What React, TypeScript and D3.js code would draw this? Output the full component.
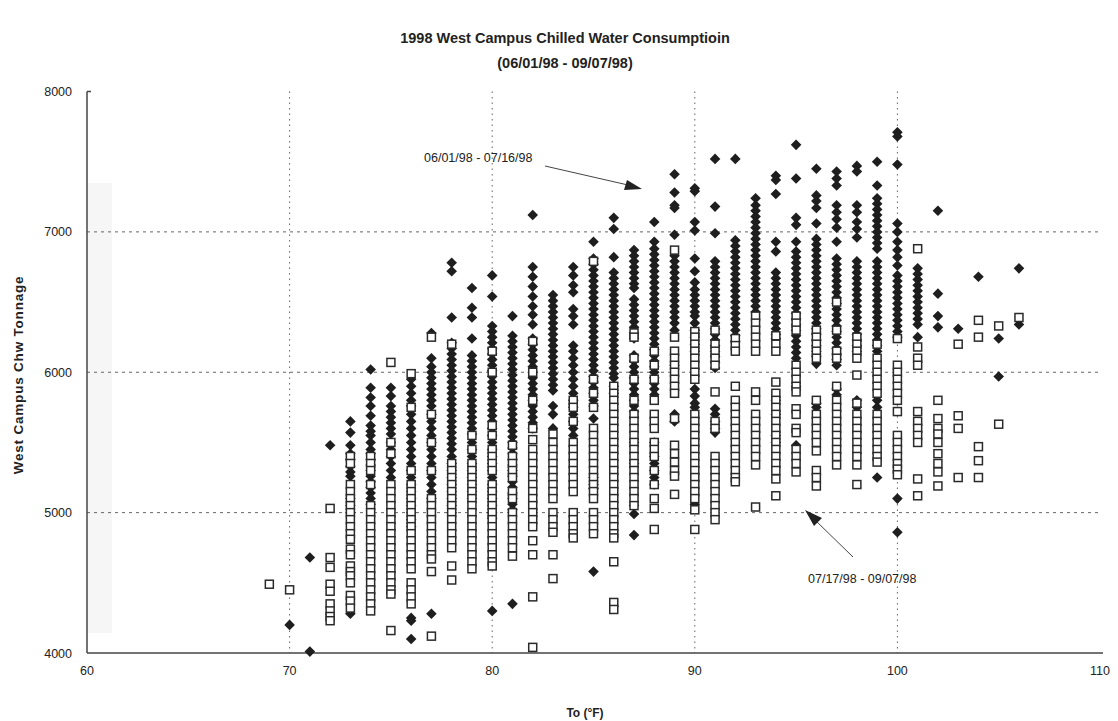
import React from "react";
import * as d3 from "d3";

// rows: [outdoor temp °F, ...chilled water tonnage readings]
// 06/01/98 - 07/16/98 (filled diamonds)
const earlyRows: number[][] = [
  [70, 4200],
  [71, 4680, 4010],
  [72, 5480],
  [73, 5650, 5570, 5480, 5420, 5380, 5330, 5290, 5260, 5100, 5050, 5000, 4280],
  [74, 6020, 5890, 5820, 5760, 5690, 5620, 5580, 5550, 5500, 5450, 5420, 5380, 5340, 5300, 5260, 5220, 5180, 5140, 5100, 5060],
  [75, 5890, 5830, 5760, 5720, 5680, 5640, 5600, 5560, 5500, 5450, 5400, 5350, 5300, 5250],
  [76, 5950, 5900, 5850, 5800, 5760, 5700, 5650, 5600, 5550, 5500, 5450, 5400, 5350, 5300, 5250, 5200, 5150, 5100, 5050, 5000, 4950, 4900, 4250, 4230, 4100],
  [77, 6280, 6100, 6040, 6000, 5960, 5920, 5880, 5840, 5800, 5760, 5700, 5650, 5600, 5550, 5500, 5450, 5400, 5350, 5300, 5250, 5200, 5150, 5100, 4280],
  [78, 6780, 6720, 6390, 6210, 6170, 6130, 6090, 6050, 6010, 5970, 5930, 5890, 5850, 5810, 5770, 5730, 5690, 5650, 5610, 5570, 5530, 5490, 5450, 5400, 5350, 5300, 5250, 5200, 5150, 5100, 5050, 5000],
  [79, 6600, 6460, 6390, 6240, 6120, 6080, 6040, 6000, 5960, 5920, 5880, 5840, 5800, 5760, 5720, 5680, 5640, 5600, 5560, 5500, 5450, 5400, 5350, 5300, 5250, 5200, 5150, 5100],
  [80, 6690, 6540, 6330, 6290, 6250, 6210, 6170, 6130, 6090, 6050, 6010, 5970, 5930, 5890, 5850, 5810, 5770, 5730, 5690, 5650, 5600, 5550, 5500, 5450, 5400, 5350, 5300, 5250, 5200, 5150, 5100, 5050, 5000, 4960, 4300],
  [81, 6400, 6260, 6220, 6180, 6140, 6100, 6060, 6020, 5980, 5940, 5900, 5860, 5820, 5780, 5740, 5700, 5660, 5620, 5580, 5540, 5500, 5460, 5420, 5380, 5340, 5300, 5260, 5220, 5180, 5140, 5100, 5060, 5020, 4350],
  [82, 7120, 6750, 6680, 6610, 6540, 6470, 6410, 6340, 6240, 6200, 6160, 6120, 6080, 6040, 6000, 5960, 5920, 5880, 5840, 5800, 5760, 5720, 5680, 5640, 5600],
  [83, 6550, 6510, 6470, 6430, 6390, 6350, 6310, 6270, 6230, 6190, 6150, 6110, 6070, 6030, 5990, 5950, 5910, 5870, 5760, 5700, 5600],
  [84, 6750, 6690, 6620, 6570, 6450, 6400, 6340, 6190, 6150, 6100, 6050, 6000, 5950, 5900, 5850, 5800, 5750, 5700, 5650, 5600, 5550],
  [85, 6930, 6810, 6770, 6730, 6690, 6650, 6610, 6570, 6530, 6490, 6450, 6410, 6370, 6330, 6290, 6250, 6210, 6170, 6130, 6090, 6050, 6010, 5970, 5930, 5890, 5850, 5800, 5760, 5670, 5250, 5200, 5170, 4580],
  [86, 7100, 7020, 6820, 6710, 6670, 6630, 6590, 6550, 6510, 6470, 6430, 6390, 6350, 6310, 6270, 6230, 6190, 6150, 6110, 6070, 6030, 5990, 5960, 5900, 5850],
  [87, 6870, 6830, 6790, 6750, 6710, 6670, 6630, 6600, 6520, 6480, 6440, 6400, 6360, 6320, 6280, 6240, 6120, 6080, 6040, 6000, 5960, 5920, 5880, 5840, 5800, 5760, 5720, 5680, 5500, 5350, 5050, 4990, 4840],
  [88, 7070, 6930, 6880, 6840, 6800, 6760, 6720, 6680, 6640, 6600, 6560, 6520, 6480, 6440, 6400, 6360, 6320, 6280, 6240, 6200, 6160, 6120, 6080, 6040, 6000, 5960, 5920, 5880, 5840, 5500, 5400, 5350, 5300, 5250, 5200],
  [89, 7410, 7280, 7190, 7170, 6980, 6830, 6790, 6750, 6710, 6670, 6630, 6590, 6550, 6510, 6470, 6430, 6390, 6350, 6300, 6050, 5700, 5650],
  [90, 7310, 7290, 7070, 7010, 6810, 6720, 6640, 6590, 6550, 6510, 6470, 6430, 6400, 6350, 6300, 6250, 6200, 6150, 5880, 5830, 5780, 5750, 5060],
  [91, 7520, 7180, 6990, 6790, 6750, 6710, 6670, 6630, 6590, 6550, 6510, 6470, 6430, 6390, 6350, 6310, 6270, 6230, 6190, 6150, 6110, 6070, 6030, 5740, 5700, 5650, 5600, 5570],
  [92, 7520, 6940, 6900, 6860, 6820, 6780, 6740, 6700, 6660, 6620, 6580, 6540, 6500, 6460, 6420, 6380, 6340, 6300, 6260, 6220],
  [93, 7240, 7190, 7150, 7110, 7070, 7030, 6990, 6950, 6910, 6870, 6830, 6790, 6750, 6710, 6670, 6630, 6590, 6550, 6510, 6470, 6430],
  [94, 7400, 7370, 7270, 6930, 6860, 6710, 6670, 6630, 6590, 6550, 6510, 6470, 6430, 6390, 6350, 6310, 6270, 6240, 5800, 5700, 5550, 5500],
  [95, 7620, 7380, 7100, 7050, 6930, 6860, 6820, 6780, 6740, 6700, 6660, 6620, 6580, 6540, 6500, 6460, 6420, 6380, 6340, 6300, 6260, 6220, 6180, 6140, 6100, 5900, 5480],
  [96, 7450, 7260, 7220, 7170, 7060, 6950, 6910, 6870, 6830, 6790, 6750, 6710, 6670, 6630, 6590, 6550, 6510, 6470, 6430, 6390, 6350, 6310, 6270, 6230, 6190, 6150, 6110, 6060, 5780, 5750],
  [97, 7430, 7380, 7330, 7190, 7140, 7090, 7030, 6930, 6810, 6770, 6730, 6690, 6650, 6610, 6570, 6530, 6490, 6450, 6410, 6370, 6330, 6290, 6250, 6210, 6170, 6130, 6090, 6050, 5880, 5840],
  [98, 7470, 7430, 7190, 7140, 7070, 7020, 6960, 6790, 6750, 6710, 6670, 6630, 6590, 6550, 6510, 6470, 6430, 6390, 6350, 6310, 6270, 6230, 6190, 6150, 5800, 5750],
  [99, 7500, 7330, 7240, 7200, 7160, 7120, 7080, 7040, 7000, 6960, 6920, 6880, 6790, 6750, 6710, 6670, 6630, 6590, 6550, 6510, 6470, 6430, 6390, 6350, 6310, 6270, 6230, 6190, 6150, 5800, 5750, 5250],
  [100, 7710, 7680, 7480, 7060, 7000, 6930, 6870, 6820, 6760, 6690, 6650, 6610, 6570, 6530, 6490, 6450, 6410, 6370, 6330, 6290, 6250, 5100, 4860],
  [101, 6740, 6700, 6660, 6620, 6580, 6540, 6500, 6460, 6420, 6380, 6340, 6250],
  [102, 7150, 6560, 6400, 6320],
  [103, 6310],
  [104, 6680],
  [105, 6240, 5970],
  [106, 6740, 6340],
];

// 07/17/98 - 09/07/98 (open squares)
const lateRows: number[][] = [
  [69, 4490],
  [70, 4450],
  [72, 5030, 4680, 4610, 4490, 4440, 4350, 4300, 4260, 4230],
  [73, 5400, 5350, 5200, 5150, 5100, 5050, 5000, 4950, 4900, 4850, 4810, 4740, 4700, 4620, 4580, 4550, 4500, 4410, 4370, 4320],
  [74, 5400, 5350, 5300, 5200, 5050, 5000, 4950, 4900, 4850, 4800, 4750, 4700, 4650, 4600, 4550, 4500, 4450, 4400, 4350, 4300],
  [75, 6070, 5500, 5420, 5200, 5150, 5100, 5050, 5000, 4950, 4900, 4850, 4800, 4750, 4700, 4650, 4600, 4550, 4500, 4450, 4420, 4160],
  [76, 5990, 5750, 5300, 5200, 5150, 5100, 5050, 5000, 4950, 4900, 4850, 4800, 4750, 4700, 4650, 4600, 4500, 4450, 4400, 4350],
  [77, 6250, 5700, 5500, 5300, 5100, 5050, 5000, 4950, 4900, 4850, 4800, 4750, 4700, 4670, 4580, 4120],
  [78, 6200, 5350, 5300, 5250, 5200, 5150, 5100, 5050, 5000, 4950, 4900, 4850, 4800, 4750, 4620, 4520],
  [79, 5550, 5450, 5350, 5300, 5250, 5200, 5150, 5100, 5050, 5000, 4950, 4900, 4850, 4800, 4750, 4700, 4650, 4600],
  [80, 6150, 6000, 5620, 5550, 5450, 5400, 5350, 5300, 5200, 5150, 5100, 5050, 5000, 4950, 4900, 4850, 4800, 4750, 4700, 4650, 4620],
  [81, 5480, 5400, 5350, 5300, 5250, 5150, 5100, 5000, 4950, 4900, 4850, 4800, 4750, 4690],
  [82, 6220, 6000, 5800, 5600, 5520, 5450, 5400, 5350, 5300, 5250, 5200, 5150, 5100, 5050, 5000, 4950, 4900, 4800, 4700, 4400, 4040],
  [83, 5560, 5500, 5450, 5400, 5350, 5300, 5250, 5200, 5150, 5100, 5000, 4950, 4900, 4860, 4700, 4530],
  [84, 5800, 5750, 5650, 5500, 5450, 5400, 5350, 5300, 5250, 5200, 5150, 5000, 4950, 4900, 4850, 4820],
  [85, 6790, 5950, 5850, 5750, 5600, 5550, 5500, 5450, 5400, 5350, 5300, 5250, 5200, 5150, 5100, 5000, 4950, 4900, 4850],
  [86, 5900, 5850, 5800, 5750, 5700, 5650, 5600, 5550, 5500, 5450, 5400, 5350, 5300, 5250, 5200, 5150, 5100, 5050, 5000, 4950, 4900, 4850, 4820, 4650, 4360, 4310],
  [87, 6280, 6250, 6100, 5950, 5800, 5700, 5650, 5600, 5550, 5500, 5450, 5400, 5350, 5300, 5250, 5200, 5150, 5100, 5050],
  [88, 6150, 6050, 5950, 5800, 5700, 5650, 5600, 5500, 5450, 5400, 5300, 5200, 5100, 5030, 4880],
  [89, 6870, 6250, 6150, 6100, 6050, 6000, 5950, 5900, 5850, 5670, 5480, 5420, 5360, 5300, 5260, 5130],
  [90, 6290, 6250, 6200, 6150, 6100, 6050, 6000, 5950, 5700, 5650, 5600, 5550, 5500, 5450, 5400, 5350, 5300, 5250, 5200, 5150, 5100, 5020, 4880],
  [91, 6300, 6200, 6150, 6100, 6050, 5860, 5650, 5600, 5400, 5350, 5300, 5250, 5200, 5150, 5100, 5050, 5000, 4950],
  [92, 6240, 6190, 6150, 5900, 5800, 5750, 5700, 5650, 5600, 5550, 5500, 5450, 5400, 5350, 5300, 5250, 5220],
  [93, 6400, 6350, 6300, 6250, 6200, 6150, 5860, 5800, 5700, 5650, 5600, 5550, 5500, 5450, 5400, 5340, 5040],
  [94, 6260, 6200, 6150, 5930, 5850, 5800, 5750, 5700, 5650, 5600, 5550, 5500, 5450, 5400, 5350, 5300, 5240, 5120],
  [95, 6400, 6350, 6300, 6050, 6000, 5950, 5900, 5860, 5740, 5700, 5600, 5570, 5450, 5400, 5350, 5290],
  [96, 6300, 6250, 6200, 6150, 6100, 5800, 5700, 5650, 5600, 5550, 5500, 5440, 5300, 5250, 5190],
  [97, 6500, 6300, 6150, 6100, 5900, 5800, 5750, 5700, 5650, 5600, 5550, 5500, 5450, 5400, 5340],
  [98, 6250, 6200, 6150, 6100, 5980, 5780, 5700, 5650, 5600, 5550, 5500, 5450, 5400, 5340, 5200],
  [99, 6200, 6100, 6050, 6000, 5950, 5900, 5850, 5700, 5650, 5600, 5550, 5500, 5450, 5400, 5360],
  [100, 6240, 6050, 6000, 5950, 5900, 5850, 5800, 5720, 5550, 5500, 5450, 5400, 5350, 5310, 5270],
  [101, 6880, 6180, 6100, 6050, 5720, 5650, 5600, 5550, 5500, 5240, 5120],
  [102, 5800, 5670, 5600, 5560, 5500, 5420, 5350, 5290, 5190],
  [103, 6200, 5690, 5600, 5250],
  [104, 6370, 6250, 5470, 5370, 5250],
  [105, 6330, 5630],
  [106, 6390],
];

const xTicks = [60, 70, 80, 90, 100, 110];
const yTicks = [4000, 5000, 6000, 7000, 8000];
const xGrid = [70, 80, 90, 100];
const yGrid = [5000, 6000, 7000];

const W = 1118, H = 721;
const font = "'Liberation Sans', Arial, sans-serif";

function flatten(rows: number[][]) {
  return rows.flatMap(([t, ...vals]) => vals.map(v => ({ t, v })));
}

export default function App() {
  const x = d3.scaleLinear().domain([60, 110]).range([87, 1100]);
  const y = d3.scaleLinear().domain([4000, 8000]).range([653, 91.5]);
  const early = flatten(earlyRows);
  const late = flatten(lateRows);
  const r = 5.3;
  const diamond = `M0,${-r}L${r},0L0,${r}L${-r},0Z`;
  const s = 8;

  return (
    <svg width={W} height={H} style={{ position: "absolute", left: 0, top: 0, background: "#fff" }} fontFamily={font}>
      <rect x={0} y={0} width={W} height={H} fill="#fff" />
      {/* faint scan shading at the left edge of the plot */}
      <rect x={88} y={183} width={24} height={450} fill="#f6f6f6" />

      <text x={565} y={43} textAnchor="middle" fontSize={14.5} fontWeight="bold" fill="#222">
        1998 West Campus Chilled Water Consumptioin
      </text>
      <text x={565} y={68} textAnchor="middle" fontSize={14.5} fontWeight="bold" fill="#222">
        (06/01/98 - 09/07/98)
      </text>

      {/* gridlines */}
      {xGrid.map(t => (
        <line key={"gx" + t} x1={x(t)} x2={x(t)} y1={y(8000)} y2={y(4000)} stroke="#666" strokeWidth={1} strokeDasharray="1.5,4" />
      ))}
      {yGrid.map(v => (
        <line key={"gy" + v} x1={x(60)} x2={x(110)} y1={y(v)} y2={y(v)} stroke="#666" strokeWidth={1} strokeDasharray="3,4" />
      ))}

      {/* axes */}
      <line x1={x(60)} x2={x(60)} y1={y(8000)} y2={y(4000)} stroke="#444" strokeWidth={1.5} />
      <line x1={x(60)} x2={x(60) + 4} y1={y(8000)} y2={y(8000)} stroke="#444" strokeWidth={1.5} />
      <line x1={x(60)} x2={x(110) + 3} y1={y(4000)} y2={y(4000)} stroke="#444" strokeWidth={1.5} />

      {yTicks.map(v => (
        <text key={"yt" + v} x={72} y={y(v) + 4.5} textAnchor="end" fontSize={12.5} fill="#222">{v}</text>
      ))}
      {xTicks.map(t => (
        <text key={"xt" + t} x={x(t)} y={675} textAnchor="middle" fontSize={12.5} fill="#222">{t}</text>
      ))}

      <text x={585} y={717} textAnchor="middle" fontSize={12} fontWeight="bold" fill="#222">To (°F)</text>
      <text transform={`translate(23,375) rotate(-90)`} textAnchor="middle" fontSize={13.5} fontWeight="bold" letterSpacing={0.8} fill="#222">
        West Campus Chw Tonnage
      </text>

      {/* series 1: diamonds */}
      <g fill="#1e1e1e">
        {early.map((d, i) => (
          <path key={"e" + i} d={diamond} transform={`translate(${x(d.t)},${y(d.v)})`} />
        ))}
      </g>
      {/* series 2: open squares */}
      <g fill="#fff" stroke="#2a2a2a" strokeWidth={1.5}>
        {late.map((d, i) => (
          <rect key={"l" + i} x={x(d.t) - s / 2} y={y(d.v) - s / 2} width={s} height={s} />
        ))}
      </g>

      {/* annotations */}
      <text x={424} y={162} fontSize={12.5} fill="#222">06/01/98 - 07/16/98</text>
      <line x1={545} y1={166} x2={628} y2={185} stroke="#444" strokeWidth={1} />
      <path d="M642,189 L624,190 L627,180 Z" fill="#222" />

      <text x={808} y={583} fontSize={12.5} fill="#222">07/17/98 - 09/07/98</text>
      <line x1={853} y1={557} x2={814} y2={519} stroke="#444" strokeWidth={1} />
      <path d="M805,510 L822,518 L814,526 Z" fill="#222" />
    </svg>
  );
}
